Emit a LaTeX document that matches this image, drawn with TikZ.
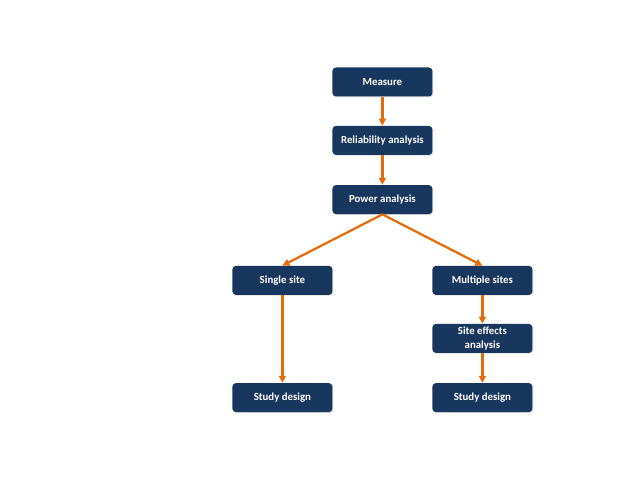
\documentclass[tikz,border=0pt]{standalone}
\usepackage{fontspec}
\setmainfont{Carlito}
\usetikzlibrary{arrows.meta,shadows}
\definecolor{navy}{RGB}{23,55,94}
\definecolor{flow}{RGB}{228,108,10}
\begin{document}
\begin{tikzpicture}[
  box/.style={rectangle,rounded corners=2.5pt,fill=navy,text=white,
    minimum width=2.5cm,minimum height=0.725cm,align=center,inner sep=1pt,
    font=\fontsize{7.7}{9.6}\selectfont\bfseries,
    drop shadow={opacity=0.25,shadow xshift=0.6pt,shadow yshift=-0.6pt}},
  flowline/.style={draw=flow,line width=1.6pt,-{Triangle[length=5pt,width=5pt]}}
]
\fill[white] (0,0) rectangle (16,12);
\useasboundingbox (0,0) rectangle (16,12);

\draw (9.56,9.95) node(MEAS)[box]{Measure};
\draw (9.56,8.49) node(REL)[box]{Reliability analysis};
\draw (9.56,7.01) node(POW)[box]{Power analysis};
\draw (7.06,4.99) node(SINGLE)[box]{Single site};
\draw (12.06,4.99) node(MULTI)[box]{Multiple sites};
\draw (12.06,3.54) node(SITE)[box]{Site effects\\analysis};
\draw (7.06,2.06) node(DESL)[box]{Study design};
\draw (12.06,2.06) node(DESR)[box]{Study design};

\draw[flowline] (MEAS) -- (REL);
\draw[flowline] (REL) -- (POW);
\draw[flowline] (POW.south) -- (SINGLE.north);
\draw[flowline] (POW.south) -- (MULTI.north);
\draw[flowline] (SINGLE) -- (DESL);
\draw[flowline] (MULTI) -- (SITE);
\draw[flowline] (SITE) -- (DESR);

\end{tikzpicture}
\end{document}
